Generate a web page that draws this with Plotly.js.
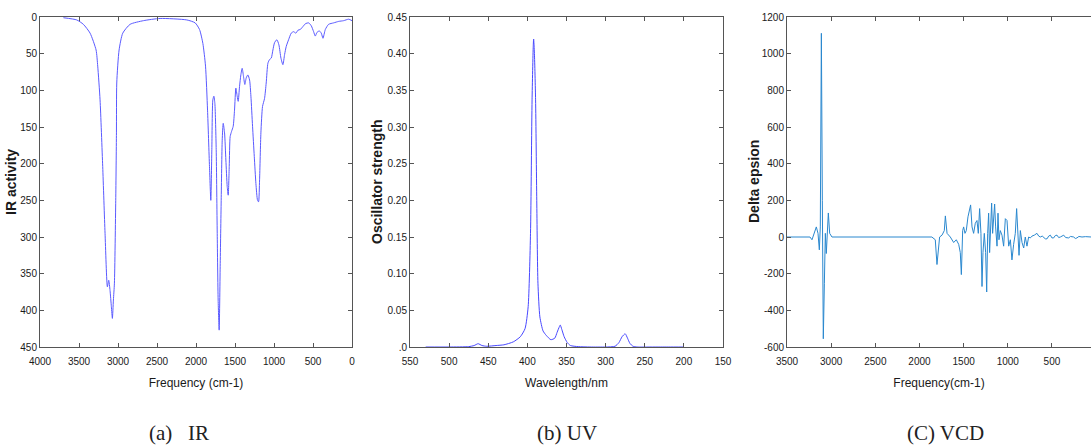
<!DOCTYPE html>
<html>
<head>
<meta charset="utf-8">
<script src="https://cdn.plot.ly/plotly-3.0.1.min.js"></script>
<style>html,body{margin:0;padding:0;background:#fff;}#chart{width:1091px;height:447px;}</style>
</head>
<body>
<div id="chart"></div>
<script>
// ---- IR spectrum ----
const irFreq = [3700,3529,3444,3358,3281,3260,3230,3196,3166,3136,3119,3102,3085,3072,3059,3046,3029,3020,3016,2986,2939,2845,2674,2460,2118,2011,1955,1912,1878,1852,1827,1810,1797,1784,1771,1758,1741,1728,1716,1703,1690,1677,1664,1651,1634,1617,1600,1587,1574,1562,1544,1523,1506,1489,1472,1459,1442,1425,1408,1391,1374,1356,1335,1313,1296,1275,1253,1232,1211,1198,1185,1168,1147,1121,1100,1078,1057,1035,1014,993,963,937,911,886,864,843,813,779,749,719,693,663,629,595,556,522,492,471,449,419,394,372,342,300,235,171,107,43,0];
const irActivity = [1,4,10,22,45,67,113,204,295,368,359,373,395,411,386,363,250,158,90,45,22,10,5,2,4,8,17,36,67,127,204,250,181,113,108,118,181,295,386,427,340,250,168,145,158,195,231,243,204,163,156,149,127,97,108,115,95,79,70,81,92,83,79,86,108,149,190,227,250,252,222,158,122,111,90,63,58,56,45,35,31,38,56,65,51,40,31,22,20,22,18,17,13,9,8,12,20,26,21,19,22,29,17,10,8,6,5,3,5];
const irXTicks = [0,500,1000,1500,2000,2500,3000,3500,4000];
const irYTicks = [0,50,100,150,200,250,300,350,400,450];

// ---- UV spectrum ----
const uvWavelength = [530,500,475,468,463,458,452,440,430,418,409,403,399,396,394,392.5,392,391,389.5,388,386.5,384,380,376,370,365,362,359,358,356,353,349,345,335,320,300,288,283,279,275,272,269,265,260,240,220,200];
const uvStrength = [0,0,0.0005,0.002,0.0045,0.002,0.001,0.002,0.003,0.007,0.014,0.025,0.055,0.155,0.337,0.41,0.42,0.40,0.337,0.2,0.087,0.041,0.022,0.016,0.010,0.012,0.020,0.028,0.030,0.024,0.014,0.006,0.002,0.0005,0,0,0.001,0.006,0.014,0.018,0.012,0.005,0.001,0,0,0,0];
const uvXTicks = [150,200,250,300,350,400,450,500,550];
const uvYTicks = [0,0.05,0.10,0.15,0.20,0.25,0.30,0.35,0.40,0.45];
const uvYLabels = ['.0','0.05','0.10','0.15','0.20','0.25','0.30','0.35','0.40','0.45'];

// ---- VCD spectrum ----
const vcdFreq = [3500,3240,3217,3191,3168,3149,3134,3123,3111,3100,3089,3077,3066,3055,3043,3032,3017,2991,1860,1821,1802,1787,1772,1745,1719,1707,1688,1651,1613,1583,1556,1538,1526,1511,1500,1485,1470,1451,1432,1421,1405,1387,1368,1349,1334,1319,1304,1292,1281,1266,1251,1239,1228,1217,1206,1194,1183,1172,1160,1149,1138,1122,1111,1100,1085,1066,1047,1028,1009,990,971,953,934,915,900,885,873,858,839,820,802,783,764,745,726,700,670,650,632,610,594,575,556,537,518,500,481,462,443,424,405,386,367,345,325,311,290,270,254,235,217,195,160,120,55];
const vcdDelta = [0,0,-15,20,55,20,-70,55,1111,200,-555,-255,20,-90,20,131,20,0,0,-15,-150,-50,0,10,35,115,20,0,-30,-15,-40,-85,-205,35,55,20,35,110,165,175,55,20,75,90,20,155,20,-270,-85,20,-85,-300,20,130,-85,55,185,20,130,180,55,-50,130,-15,35,10,-50,100,90,-50,-15,-125,-40,20,155,20,-100,35,-30,-60,0,-50,0,-5,5,10,20,5,0,5,0,-10,-10,5,10,-5,-5,8,10,-3,0,5,10,-3,-5,-5,3,0,0,-8,-5,3,0,2,0];
const vcdXTicks = [500,1000,1500,2000,2500,3000,3500];
const vcdYTicks = [-600,-400,-200,0,200,400,600,800,1000,1200];

const yTitles = ['IR activity', 'Oscillator strength', 'Delta epsion'];
const xTitles = ['Frequency (cm-1)', 'Wavelength/nm', 'Frequency(cm-1)'];
const captions = ['(a)   IR', '(b) UV', '(C) VCD'];

const W = 1091, H = 447;
const tickFont = {family: '"Liberation Sans", Arial, sans-serif', size: 10, color: '#1a1a1a'};
const xTitleFont = {family: '"Liberation Sans", Arial, sans-serif', size: 12, color: '#1a1a1a'};
const yTitleFont = {family: '"Liberation Sans", Arial, sans-serif', size: 14, color: '#1a1a1a', weight: 'bold'};
const yDom = [1 - 347/H, 1 - 17/H];

function axisBase(extra) {
  return Object.assign({
    showline: true, linecolor: '#555', linewidth: 1,
    ticks: 'inside', ticklen: 4, tickcolor: '#555',
    mirror: 'ticks', showgrid: false, zeroline: false,
    tickfont: tickFont, tickmode: 'array', automargin: false
  }, extra);
}
function xAxis(extra) { return axisBase(Object.assign({ticklabelstandoff: 5}, extra)); }

const traces = [
  {x: irFreq, y: irActivity, xaxis: 'x', yaxis: 'y', type: 'scatter', mode: 'lines',
   line: {color: '#5a5aff', width: 1, shape: 'spline', smoothing: 0.6}, hoverinfo: 'skip'},
  {x: uvWavelength, y: uvStrength, xaxis: 'x2', yaxis: 'y2', type: 'scatter', mode: 'lines',
   line: {color: '#4848ff', width: 1, shape: 'spline', smoothing: 0.6}, hoverinfo: 'skip'},
  {x: vcdFreq, y: vcdDelta, xaxis: 'x3', yaxis: 'y3', type: 'scatter', mode: 'lines',
   line: {color: '#2a88cf', width: 1}, hoverinfo: 'skip'}
];

const yMid = (yDom[0] + yDom[1]) / 2;
const annotations = [];
[11, 377, 754].forEach((px, i) => annotations.push({
  text: yTitles[i], x: px / W, y: yMid, textangle: -90,
  xref: 'paper', yref: 'paper', showarrow: false, xanchor: 'center', yanchor: 'middle',
  font: yTitleFont
}));
[179, 567, 945].forEach((px, i) => annotations.push({
  text: captions[i], x: px / W, y: (H - 433) / H,
  xref: 'paper', yref: 'paper', showarrow: false, xanchor: 'center', yanchor: 'middle',
  font: {family: '"Liberation Serif", "Times New Roman", serif', size: 21, color: '#222'}
}));

const layout = {
  width: W, height: H,
  margin: {l: 0, r: 0, t: 0, b: 0},
  paper_bgcolor: '#fff', plot_bgcolor: '#fff',
  showlegend: false,
  xaxis: xAxis({domain: [40/W, 352/W], range: [4000, 0], anchor: 'y',
    tickvals: irXTicks, ticktext: irXTicks.map(String),
    title: {text: xTitles[0], font: xTitleFont, standoff: 12}}),
  yaxis: axisBase({domain: yDom, range: [450, 0], anchor: 'x',
    tickvals: irYTicks, ticktext: irYTicks.map(String)}),
  xaxis2: xAxis({domain: [410/W, 723/W], range: [550, 150], anchor: 'y2',
    tickvals: uvXTicks, ticktext: uvXTicks.map(String),
    title: {text: xTitles[1], font: xTitleFont, standoff: 12}}),
  yaxis2: axisBase({domain: yDom, range: [0, 0.45], anchor: 'x2',
    tickvals: uvYTicks, ticktext: uvYLabels}),
  xaxis3: xAxis({domain: [787/W, 1], range: [3500, 58], anchor: 'y3',
    tickvals: vcdXTicks, ticktext: vcdXTicks.map(String),
    title: {text: xTitles[2], font: xTitleFont, standoff: 12}}),
  yaxis3: axisBase({domain: yDom, range: [-600, 1200], anchor: 'x3', mirror: false,
    tickvals: vcdYTicks, ticktext: vcdYTicks.map(String)}),
  annotations: annotations
};

Plotly.newPlot('chart', traces, layout, {staticPlot: true, displayModeBar: false});
</script>
</body>
</html>
